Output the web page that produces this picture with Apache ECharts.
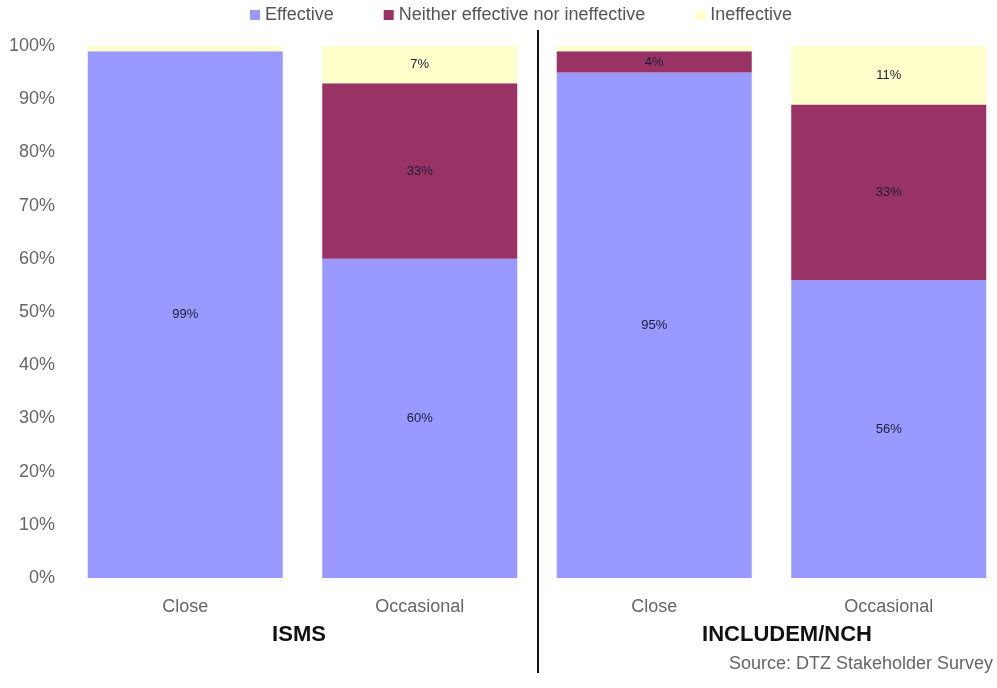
<!DOCTYPE html>
<html>
<head>
<meta charset="utf-8">
<script src="https://cdn.jsdelivr.net/npm/echarts@6/dist/echarts.min.js"></script>
<style>
  html, body { margin: 0; padding: 0; background: #fff; }
  #chart { width: 997px; height: 688px; }
</style>
</head>
<body>
<div id="chart"></div>
<script>
// Perceived effectiveness by contact type, two programmes side by side
const categories = ['Close', 'Occasional', 'Close', 'Occasional'];
const groups = ['ISMS', 'INCLUDEM/NCH'];
const seriesNames = ['Effective', 'Neither effective nor ineffective', 'Ineffective'];
const effective = [99, 60, 95, 56];
const neither = [0, 33, 4, 33];
const ineffective = [1, 7, 1, 11];
const sourceNote = 'Source: DTZ Stakeholder Survey';

const colors = ['#9999FF', '#993366', '#FFFFCC'];
const font = 'Liberation Sans, Arial, sans-serif';

const chart = echarts.init(document.getElementById('chart'), null, { renderer: 'canvas' });

function barSeries(name, values, color) {
  return {
    name: name,
    type: 'bar',
    stack: 'total',
    barWidth: 195,
    data: values,
    itemStyle: { color: color },
    label: {
      show: true,
      position: 'inside',
      fontFamily: font,
      fontSize: 13,
      color: '#1c1c3a',
      formatter: p => (p.value >= 2 ? p.value + '%' : '')
    }
  };
}

chart.setOption({
  animation: false,
  backgroundColor: '#fff',
  textStyle: { fontFamily: font },
  legend: {
    left: 245,
    top: 1,
    itemWidth: 10,
    itemHeight: 10,
    itemGap: 50,
    icon: 'rect',
    textStyle: { fontFamily: font, fontSize: 18, color: '#555' },
    data: seriesNames
  },
  // the last category band runs slightly past the right edge of the canvas
  grid: { left: 68, top: 46, bottom: 110, right: -9, containLabel: false, outerBoundsMode: 'none' },
  xAxis: {
    type: 'category',
    data: categories,
    axisLine: { show: false },
    axisTick: { show: false },
    axisLabel: { margin: 20, fontFamily: font, fontSize: 18, color: '#666' }
  },
  yAxis: {
    type: 'value',
    min: 0,
    max: 100,
    interval: 10,
    axisLine: { show: false },
    axisTick: { show: false },
    splitLine: { show: false },
    axisLabel: { margin: 13, formatter: '{value}%', fontFamily: font, fontSize: 18, color: '#666' }
  },
  series: [
    barSeries(seriesNames[0], effective, colors[0]),
    barSeries(seriesNames[1], neither, colors[1]),
    barSeries(seriesNames[2], ineffective, colors[2])
  ],
  graphic: [
    {
      type: 'line',
      shape: { x1: 538, y1: 30, x2: 538, y2: 673 },
      style: { stroke: '#111', lineWidth: 2 }
    },
    {
      type: 'text', x: 299, y: 635,
      style: { text: groups[0], fontFamily: font, fontSize: 22, fontWeight: 'bold', fill: '#111', align: 'center', verticalAlign: 'middle' }
    },
    {
      type: 'text', x: 787, y: 635,
      style: { text: groups[1], fontFamily: font, fontSize: 22, fontWeight: 'bold', fill: '#111', align: 'center', verticalAlign: 'middle' }
    },
    {
      type: 'text', x: 993, y: 664,
      style: { text: sourceNote, fontFamily: font, fontSize: 18, fill: '#666', align: 'right', verticalAlign: 'middle' }
    }
  ]
});
</script>
</body>
</html>
